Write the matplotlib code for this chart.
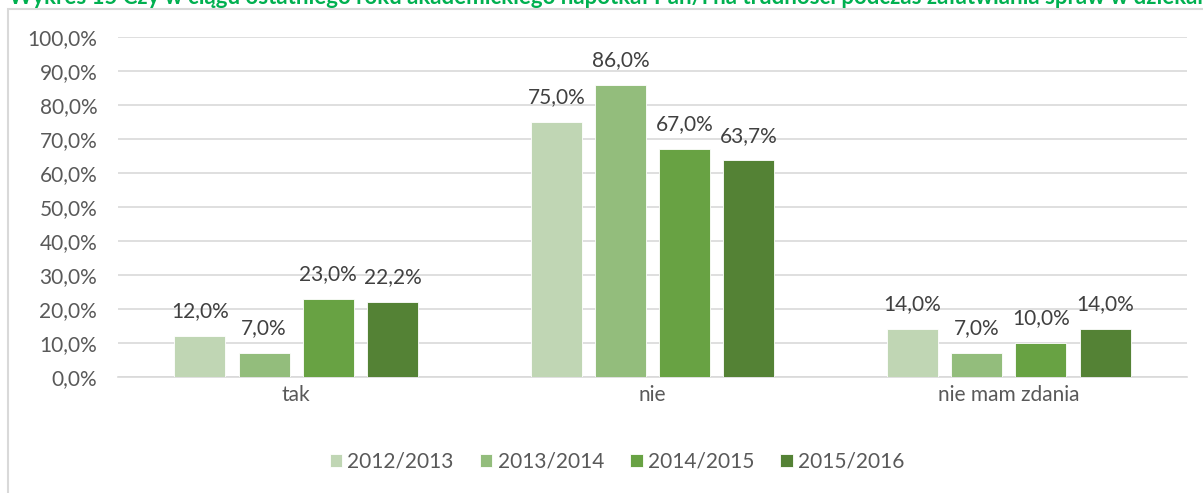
import matplotlib
matplotlib.use("Agg")
import matplotlib.pyplot as plt
from matplotlib.patches import Rectangle
import numpy as np

categories = ["tak", "nie", "nie mam zdania"]
series_names = ["2012/2013", "2013/2014", "2014/2015", "2015/2016"]
values = {
    "2012/2013": [12.0, 75.0, 14.0],
    "2013/2014": [7.0, 86.0, 7.0],
    "2014/2015": [23.0, 67.0, 10.0],
    "2015/2016": [22.2, 63.7, 14.0],
}
colors = ["#C0D6B4", "#93BD7C", "#68A243", "#548235"]
yticks = [0, 10, 20, 30, 40, 50, 60, 70, 80, 90, 100]
title = ("Wykres 15 Czy w ciągu ostatniego roku akademickiego napotkał Pan/i na "
         "trudności podczas załatwiania spraw w dziekanacie")

plt.rcParams['font.family'] = ['Lato', 'DejaVu Sans']

W, H = 1203, 493
fig = plt.figure(figsize=(W / 100, H / 100), dpi=100)

# outer frame
fig.patches.append(Rectangle((7.5 / W, -0.1), 1.2, (H - 8.5) / H + 0.1,
                             transform=fig.transFigure, fill=False,
                             edgecolor="#D9D9D9", linewidth=1.5))

# clipped title
fig.text(9 / W, 1 - 3.5 / H, title, fontsize=16, fontweight="bold",
         color="#00B050", ha="left", va="baseline")

ax = fig.add_axes([118 / W, (H - 377) / H, (1187 - 118) / W, (377 - 37) / H])

x = np.arange(len(categories))
bw = 0.143
step = 0.18
for i, name in enumerate(series_names):
    pos = x + (i - 1.5) * step
    bars = ax.bar(pos, values[name], width=bw, color=colors[i],
                  edgecolor="white", linewidth=0.6, label=name, zorder=3)
    for b, v in zip(bars, values[name]):
        ax.text(b.get_x() + b.get_width() / 2, v + 7.3,
                f"{v:.1f}%".replace(".", ","), ha="center", va="center",
                fontsize=15, color="#404040")

ax.set_xlim(-0.5, 2.5)
ax.set_ylim(0, 100)
ax.set_yticks(yticks)
ax.set_yticklabels([f"{t:.1f}%".replace(".", ",") for t in yticks])
ax.set_xticks(x)
ax.set_xticklabels(categories)
ax.tick_params(axis="both", length=0, labelsize=15, colors="#595959")
ax.tick_params(axis="y", pad=15)
ax.tick_params(axis="x", pad=6)
ax.grid(axis="y", color="#D9D9D9", linewidth=1.2, zorder=0)
for s in ["top", "right", "left"]:
    ax.spines[s].set_visible(False)
ax.spines["bottom"].set_color("#D9D9D9")
ax.spines["bottom"].set_linewidth(1.2)

leg = fig.legend(loc="center", bbox_to_anchor=(617 / W, 1 - 462 / H), ncol=4,
                 frameon=False, fontsize=15, handlelength=0.6, handleheight=0.6,
                 handletextpad=0.25, columnspacing=1.25)
for t in leg.get_texts():
    t.set_color("#595959")

fig.savefig("out.png", dpi=100)
